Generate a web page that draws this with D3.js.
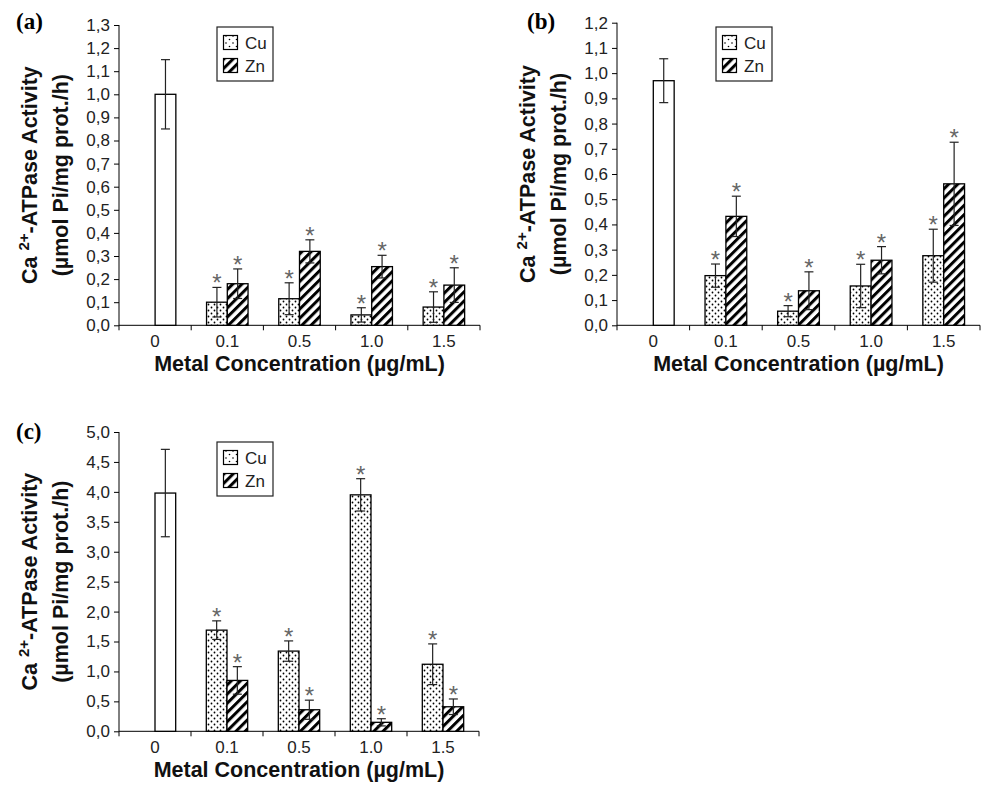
<!DOCTYPE html>
<html>
<head>
<meta charset="utf-8">
<script src="https://cdn.jsdelivr.net/npm/d3@7"></script>
<style>
  body { margin: 0; background: #fff; }
</style>
</head>
<body>
<svg id="chart"></svg>
<script>
// data
const categories = ["0", "0.1", "0.5", "1.0", "1.5"];
const metals = ["Cu", "Zn"];

// panel (a)
const aControl = 1.0, aControlErr = 0.15;
const aCu = [0.1, 0.115, 0.045, 0.079];
const aCuErr = [0.064, 0.069, 0.031, 0.066];
const aZn = [0.18, 0.32, 0.254, 0.174];
const aZnErr = [0.064, 0.05, 0.049, 0.075];
const aTicks = d3.range(0, 14).map((d) => d / 10);

// panel (b)
const bControl = 0.97, bControlErr = 0.087;
const bCu = [0.197, 0.056, 0.156, 0.276];
const bCuErr = [0.046, 0.022, 0.086, 0.105];
const bZn = [0.432, 0.137, 0.258, 0.561];
const bZnErr = [0.08, 0.075, 0.054, 0.165];
const bTicks = d3.range(0, 13).map((d) => d / 10);

// panel (c)
const cControl = 3.98, cControlErr = 0.73;
const cCu = [1.69, 1.34, 3.95, 1.12];
const cCuErr = [0.155, 0.17, 0.27, 0.34];
const cZn = [0.85, 0.36, 0.15, 0.41];
const cZnErr = [0.23, 0.16, 0.06, 0.13];
const cTicks = d3.range(0, 11).map((d) => d / 2);

const width = 983;
const height = 791;
const SANS = "Liberation Sans, Arial, sans-serif";
const SERIF = "Liberation Serif, Times New Roman, serif";

const svg = d3.select("#chart").attr("width", width).attr("height", height)
  .style("font-family", SANS);
svg.append("rect").attr("width", width).attr("height", height).attr("fill", "#fff");

// patterns
const defs = svg.append("defs");
const dots = defs.append("pattern").attr("id", "dots")
  .attr("patternUnits", "userSpaceOnUse").attr("width", 6).attr("height", 6);
dots.append("rect").attr("width", 6).attr("height", 6).attr("fill", "#fff");
dots.append("circle").attr("cx", 1.5).attr("cy", 1.5).attr("r", 0.9).attr("fill", "#000");
dots.append("circle").attr("cx", 4.5).attr("cy", 4.5).attr("r", 0.9).attr("fill", "#000");

const dotsLeg = defs.append("pattern").attr("id", "dotsLeg")
  .attr("patternUnits", "userSpaceOnUse").attr("width", 7).attr("height", 7);
dotsLeg.append("rect").attr("width", 7).attr("height", 7).attr("fill", "#fff");
dotsLeg.append("circle").attr("cx", 2).attr("cy", 2).attr("r", 0.8).attr("fill", "#000");
dotsLeg.append("circle").attr("cx", 5.5).attr("cy", 5.5).attr("r", 0.8).attr("fill", "#000");

const stripes = defs.append("pattern").attr("id", "stripes")
  .attr("patternUnits", "userSpaceOnUse").attr("width", 6.5).attr("height", 6.5)
  .attr("patternTransform", "rotate(45)");
stripes.append("rect").attr("width", 6.5).attr("height", 6.5).attr("fill", "#fff");
stripes.append("rect").attr("width", 3).attr("height", 6.5).attr("fill", "#000");

const fills = { Cu: "url(#dots)", Zn: "url(#stripes)" };
const legFills = { Cu: "url(#dotsLeg)", Zn: "url(#stripes)" };

const comma = (d) => d3.format(".1f")(d).replace(".", ",");

function drawPanel(p) {
  const g = svg.append("g");

  const x = d3.scaleBand().domain(categories).range([p.x0, p.x1]).padding(0);
  const sub = d3.scaleBand().domain(metals).range([0, x.bandwidth()])
    .paddingInner(0).paddingOuter(0.74);
  const y = d3.scaleLinear().domain([0, p.yMax]).range([p.yBottom, p.yTop]);

  // panel letter
  g.append("text").attr("x", p.labelX).attr("y", p.labelY)
    .style("font-family", SERIF)
    .attr("font-weight", "bold").attr("font-size", 23).text(p.label);

  // y axis
  const yAxis = g.append("g").attr("transform", `translate(${p.x0},0)`)
    .call(d3.axisLeft(y).tickValues(p.ticks).tickFormat(comma).tickSize(5).tickPadding(4));
  yAxis.select(".domain").attr("stroke", "#000").attr("d", `M0,${p.yBottom}V${p.yTop}`);
  yAxis.selectAll(".tick line").attr("stroke", "#000");
  yAxis.selectAll(".tick text").attr("font-size", 17).attr("fill", "#222")
    .style("font-family", SANS);

  // x axis
  g.append("line").attr("x1", p.x0).attr("x2", p.x1)
    .attr("y1", p.yBottom).attr("y2", p.yBottom).attr("stroke", "#000");
  const edges = categories.map((c) => x(c)).concat([x.range()[1]]);
  g.selectAll(".xt").data(edges).join("line")
    .attr("x1", (d) => d).attr("x2", (d) => d)
    .attr("y1", p.yBottom).attr("y2", p.yBottom + 5).attr("stroke", "#000");
  g.selectAll(".xl").data(categories).join("text")
    .attr("x", (d) => x(d) + x.bandwidth() / 2).attr("y", p.yBottom + 22)
    .attr("text-anchor", "middle").attr("font-size", 17).attr("fill", "#222").text((d) => d);

  g.append("text").attr("x", (p.x0 + p.x1) / 2).attr("y", p.yBottom + 46)
    .attr("text-anchor", "middle").attr("font-size", 21.5).attr("font-weight", "bold")
    .attr("fill", "#111").text("Metal Concentration (µg/mL)");

  // y title
  const cy = (p.yBottom + p.yTop) / 2;
  const t1 = g.append("text")
    .attr("transform", `translate(${p.x0 - 82},${cy}) rotate(-90)`)
    .attr("text-anchor", "middle").attr("font-size", 21.5).attr("font-weight", "bold").attr("fill", "#111");
  t1.append("tspan").text("Ca ");
  t1.append("tspan").attr("font-size", 15).attr("dy", -8).text("2+");
  t1.append("tspan").attr("dy", 8).text("-ATPase Activity");
  g.append("text")
    .attr("transform", `translate(${p.x0 - 51},${cy}) rotate(-90)`)
    .attr("text-anchor", "middle").attr("font-size", 21.5).attr("font-weight", "bold").attr("fill", "#111")
    .text("(µmol Pi/mg prot./h)");

  // bars
  const rows = [];
  rows.push({ cat: "0", key: "Zn", v: p.control, e: p.controlErr, fill: "#fff", star: false });
  categories.slice(1).forEach((c, i) => {
    rows.push({ cat: c, key: "Cu", v: p.cu[i], e: p.cuErr[i], fill: fills.Cu, star: true });
    rows.push({ cat: c, key: "Zn", v: p.zn[i], e: p.znErr[i], fill: fills.Zn, star: true });
  });

  const bx = (d) => x(d.cat) + sub(d.key);
  const cx = (d) => bx(d) + sub.bandwidth() / 2;

  g.selectAll(".bar").data(rows).join("rect")
    .attr("x", bx).attr("width", sub.bandwidth())
    .attr("y", (d) => y(d.v)).attr("height", (d) => y(0) - y(d.v))
    .attr("fill", (d) => d.fill).attr("stroke", "#000").attr("stroke-width", 1.3);

  const eb = g.selectAll(".err").data(rows).join("g").attr("stroke", "#222").attr("stroke-width", 1.2);
  eb.append("line").attr("x1", cx).attr("x2", cx)
    .attr("y1", (d) => y(d.v - d.e)).attr("y2", (d) => y(d.v + d.e));
  eb.append("line").attr("x1", (d) => cx(d) - 4.5).attr("x2", (d) => cx(d) + 4.5)
    .attr("y1", (d) => y(d.v + d.e)).attr("y2", (d) => y(d.v + d.e));
  eb.append("line").attr("x1", (d) => cx(d) - 4.5).attr("x2", (d) => cx(d) + 4.5)
    .attr("y1", (d) => y(d.v - d.e)).attr("y2", (d) => y(d.v - d.e));

  g.selectAll(".star").data(rows.filter((d) => d.star)).join("text")
    .attr("x", cx).attr("y", (d) => y(d.v + d.e) + 4)
    .attr("text-anchor", "middle").attr("font-size", 24).attr("fill", "#666").text("*");

  // legend
  const lg = g.append("g").attr("transform", `translate(${p.legX},${p.legY})`);
  lg.append("rect").attr("width", 56).attr("height", 54)
    .attr("fill", "#fff").attr("stroke", "#222").attr("stroke-width", 1.2);
  metals.forEach((m, i) => {
    lg.append("rect").attr("x", 6.5).attr("y", 8.5 + i * 23).attr("width", 14).attr("height", 14)
      .attr("fill", legFills[m]).attr("stroke", "#000").attr("stroke-width", 1.2);
    lg.append("text").attr("x", 28).attr("y", 21.5 + i * 23)
      .attr("font-size", 17).attr("fill", "#222").text(m);
  });
}

drawPanel({
  label: "(a)", labelX: 16, labelY: 29,
  x0: 119, x1: 480, yBottom: 325.3, yTop: 25, yMax: 1.3, ticks: aTicks,
  control: aControl, controlErr: aControlErr,
  cu: aCu, cuErr: aCuErr, zn: aZn, znErr: aZnErr,
  legX: 217, legY: 27
});

drawPanel({
  label: "(b)", labelX: 527, labelY: 29,
  x0: 617, x1: 980, yBottom: 325.3, yTop: 22.7, yMax: 1.2, ticks: bTicks,
  control: bControl, controlErr: bControlErr,
  cu: bCu, cuErr: bCuErr, zn: bZn, znErr: bZnErr,
  legX: 716, legY: 27
});

drawPanel({
  label: "(c)", labelX: 16, labelY: 439,
  x0: 119, x1: 479, yBottom: 731.3, yTop: 432, yMax: 5.0, ticks: cTicks,
  control: cControl, controlErr: cControlErr,
  cu: cCu, cuErr: cCuErr, zn: cZn, znErr: cZnErr,
  legX: 217, legY: 442
});
</script>
</body>
</html>
